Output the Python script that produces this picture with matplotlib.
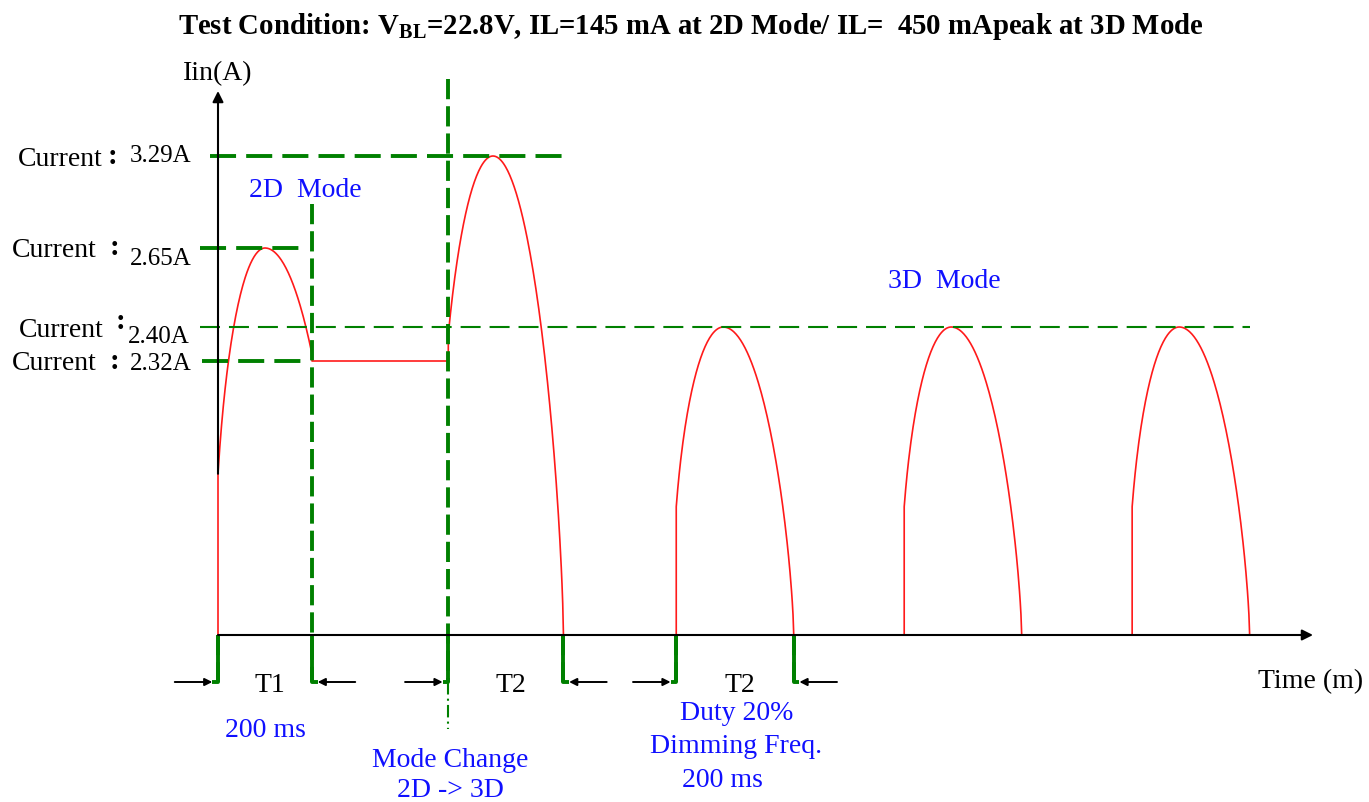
import numpy as np
import matplotlib
matplotlib.use('Agg')
import matplotlib.pyplot as plt

plt.rcParams['font.family'] = ['Liberation Serif', 'DejaVu Serif']
plt.rcParams['mathtext.fontset'] = 'custom'
plt.rcParams['mathtext.rm'] = 'Liberation Serif:bold'
plt.rcParams['mathtext.bf'] = 'Liberation Serif:bold'

# pulse timing in ms and currents in A
pulse_start = [0, 490, 975, 1460, 1945]
pulse_peak_t = [100, 585, 1075, 1560, 2045]
pulse_end = [200, 735, 1225, 1710, 2195]
pulse_peak = [2.65, 3.29, 2.40, 2.40, 2.40]
rise_width = [110, 122, 110, 110, 110]
fall_width = [165, 150, 150, 150, 150]
hold_level = 2.32

label_currents = [3.29, 2.65, 2.40, 2.32]
interval_names = ['T1', 'T2', 'T2']
interval_start = [0, 490, 975]
interval_end = [200, 735, 1225]

# the sketch is not to scale: drawing height of each labelled current
level_amps = [0, 2.32, 2.40, 2.65, 3.29]
level_height = [0, 274, 308, 387, 479]

GREEN = '#008000'
BLUE = '#1010ff'
RED = '#ff1a1a'


def lvl(a):
    return np.interp(a, level_amps, level_height)


# layout helper: reference pixel -> data coords (0.47 px per ms)
def P(px, py):
    return (px - 218) / 0.47, 636 - py


def arch(t, tp, H, a_rise, a_fall):
    ur = np.clip((t - tp) / a_rise, -1, 1)
    uf = np.clip((t - tp) / a_fall, -1, 1)
    return np.where(t <= tp, H * np.sqrt(1 - ur ** 2), H * (1 - uf ** 2) ** 0.7)


fig = plt.figure(figsize=(13.69, 8.03), dpi=100)
ax = fig.add_axes([0, 0, 1, 1])
x0, y0 = P(0, 803)
x1, y1 = P(1369, 0)
ax.set_xlim(x0, x1)
ax.set_ylim(y0, y1)
ax.axis('off')

# red current trace
curves = []
for i in range(len(pulse_start)):
    t = np.linspace(pulse_start[i], pulse_end[i], 160)
    h = arch(t, pulse_peak_t[i], lvl(pulse_peak[i]), rise_width[i], fall_width[i])
    curves.append((t, h))

t1, h1 = curves[0]
t2, h2 = curves[1]
xs = np.concatenate([[0], t1, [pulse_end[0], pulse_start[1]], t2, [pulse_end[1]]])
ys = np.concatenate([[0], h1, [lvl(hold_level), lvl(hold_level)], h2, [0]])
ax.plot(xs, ys, color=RED, lw=1.2, zorder=3)
for i in range(2, len(pulse_start)):
    t, h = curves[i]
    ax.plot(np.concatenate([[pulse_start[i]], t, [pulse_end[i]]]),
            np.concatenate([[0], h, [0]]), color=RED, lw=1.2, zorder=3)

# green guide lines
thick_h = dict(color=GREEN, lw=2.8, linestyle=(0, (6.7, 2.6)), zorder=4)
thick_v = dict(color=GREEN, lw=2.8, linestyle=(0, (5.2, 1.8)), zorder=4)
thin_h = dict(color=GREEN, lw=1.5, linestyle=(0, (9.6, 4.3)), zorder=4)

ax.plot([P(210, 0)[0], pulse_end[1]], [lvl(3.29)] * 2, **thick_h)
ax.plot([P(200, 0)[0], P(305, 0)[0]], [lvl(2.65)] * 2, **thick_h)
ax.plot([P(202, 0)[0], P(305, 0)[0]], [lvl(2.32)] * 2, **thick_h)
ax.plot([P(200, 0)[0], pulse_end[-1]], [lvl(2.40)] * 2, **thin_h)

y_corner = P(0, 683)[1]
ax.plot([pulse_end[0]] * 2, [P(0, 205)[1], y_corner], **thick_v)
ax.plot([pulse_start[1]] * 2, [P(0, 80)[1], y_corner], **thick_v)
ax.plot([pulse_start[1]] * 2, [y_corner, P(0, 730)[1]], color=GREEN, lw=1.5,
        linestyle=(0, (6, 2, 1, 2)), zorder=4)
for ts in [0, pulse_end[1], pulse_start[2], pulse_end[2]]:
    ax.plot([ts, ts], [0, y_corner], **thick_v)

# interval markers below the time axis
for name, ts, te in zip(interval_names, interval_start, interval_end):
    ax.plot([ts, ts, ts - 12], [0, y_corner, y_corner], color=GREEN, lw=2.8,
            solid_capstyle='butt', zorder=4)
    ax.plot([te, te, te + 12], [0, y_corner, y_corner], color=GREEN, lw=2.8,
            solid_capstyle='butt', zorder=4)
    ax.annotate('', xy=(ts - 12, y_corner), xytext=(ts - 92, y_corner),
                arrowprops=dict(arrowstyle='-|>', color='black', lw=1.4,
                                mutation_scale=11, shrinkA=0, shrinkB=0), zorder=5)
    ax.annotate('', xy=(te + 12, y_corner), xytext=(te + 92, y_corner),
                arrowprops=dict(arrowstyle='-|>', color='black', lw=1.4,
                                mutation_scale=11, shrinkA=0, shrinkB=0), zorder=5)
    ax.text((ts + te) / 2 + 10, P(0, 692)[1], name, ha='center', va='baseline',
            fontsize=20, color='black')

# axes with arrows
y_axis_start = curves[0][1][0]
ax.annotate('', xy=P(218, 92), xytext=(0, y_axis_start),
            arrowprops=dict(arrowstyle='-|>', color='black', lw=1.5,
                            mutation_scale=16, shrinkA=0, shrinkB=0), zorder=5)
ax.annotate('', xy=P(1313, 636), xytext=(0, 0),
            arrowprops=dict(arrowstyle='-|>', color='black', lw=1.5,
                            mutation_scale=16, shrinkA=0, shrinkB=0), zorder=5)

ax.text(*P(183, 80), 'Iin(A)', ha='left', va='baseline', fontsize=20)
ax.text(*P(1258, 688), 'Time (m)', ha='left', va='baseline', fontsize=20)

# current labels on the left
cur_x = [18, 12, 19, 12]
cur_base = [166, 257, 337, 370]
colon_pos = [(113, 164), (114, 255), (121, 329), (114, 369)]
val_x = [130, 130, 128, 130]
val_base = [162, 265, 343, 370]
for i, a in enumerate(label_currents):
    ax.text(*P(cur_x[i], cur_base[i]), 'Current', ha='left', va='baseline', fontsize=20)
    ax.text(*P(*colon_pos[i]), ':', ha='center', va='baseline', fontsize=21,
            weight='bold')
    ax.text(*P(val_x[i], val_base[i]), f'{a:.2f}A', ha='left', va='baseline', fontsize=18)

# blue notes
blue = dict(color=BLUE, fontsize=20, va='baseline')
ax.text(*P(249, 197), '2D  Mode', ha='left', **blue)
ax.text(*P(888, 288), '3D  Mode', ha='left', **blue)
ax.text(*P(265, 737), '200 ms', ha='center', **blue)
ax.text(*P(450, 767), 'Mode Change', ha='center', **blue)
ax.text(*P(450, 797), '2D -> 3D', ha='center', **blue)
ax.text(*P(737, 720), 'Duty 20%', ha='center', **blue)
ax.text(*P(736, 753), 'Dimming Freq.', ha='center', **blue)
ax.text(*P(722, 787), '200 ms', ha='center', **blue)

# title, sized to the reference width
title = fig.text(691 / 1369, 1 - 27 / 803,
                 r'Test Condition: V$_{\mathrm{BL}}$=22.8V, IL=145 mA at 2D Mode/ IL=  450 mApeak at 3D Mode',
                 ha='center', va='center', fontsize=20, weight='bold')
r = fig.canvas.get_renderer()
w = title.get_window_extent(r).width
title.set_fontsize(20 * 1026 / w)

fig.savefig('out.png', dpi=100)
